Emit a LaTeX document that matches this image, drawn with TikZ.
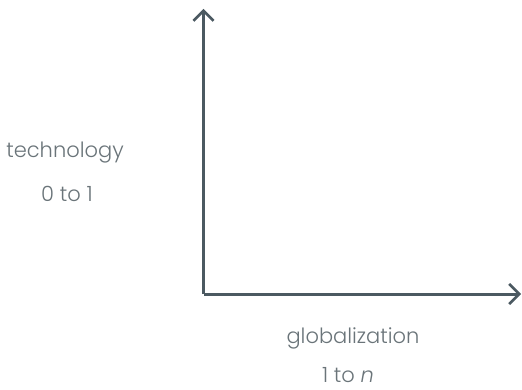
\documentclass[tikz,border=0pt]{standalone}
\usepackage{fontspec}
\setmainfont{Poppins}[UprightFont={* Light},ItalicFont={* Light Italic}]
\usetikzlibrary{arrows.meta}
\definecolor{axiscol}{HTML}{4B5961}
\definecolor{txtcol}{HTML}{6A7479}
\begin{document}
\begin{tikzpicture}[x=1pt,y=-1pt,
  axis/.style={draw=axiscol,line width=3pt,-{Straight Barb[length=10pt,width=20pt,line width=2.6pt]}},
  lbl/.style={text=txtcol,font=\fontsize{21}{24}\selectfont,inner sep=0pt,anchor=base}]
\useasboundingbox (0,0) rectangle (522,390);
\coordinate (origin) at (203.5,294);
\coordinate (ytop) at (203.5,9);
\coordinate (xend) at (521,294);
\draw[axis] (origin) -- (ytop);
\draw[axis] (origin) -- (xend);
\node[lbl] (tech) at (65,158) {technology};
\node[lbl] (tech01) at (67,202) {0 to 1};
\node[lbl] (glob) at (353,343) {globalization};
\node[lbl] (glob1n) at (348,382) {1 to \textit{n}};
\end{tikzpicture}
\end{document}
